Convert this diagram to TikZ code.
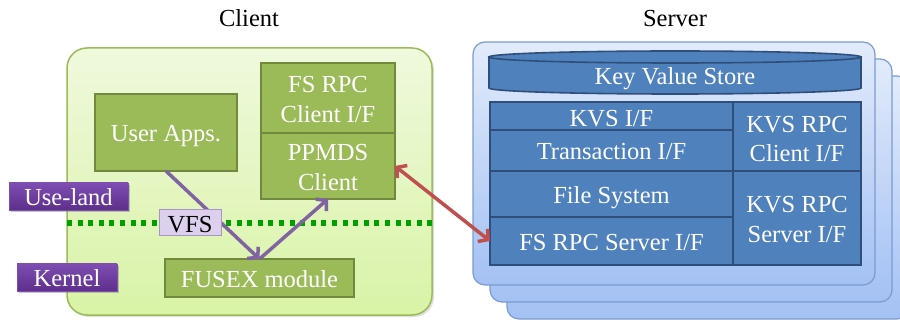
\documentclass[tikz,border=0pt]{standalone}
\usepackage{fontspec}
\setmainfont{Liberation Serif}
\usetikzlibrary{arrows.meta,shadows}
\newcommand\dnshift[2][1.5pt]{\raisebox{-#1}[\height][\depth]{#2}}
\definecolor{cgreen}{HTML}{9BBB59}
\definecolor{cgreendk}{HTML}{71893F}
\definecolor{clienttop}{HTML}{EFF9DD}
\definecolor{clientbot}{HTML}{D9F3A6}
\definecolor{purplelab}{HTML}{5E2F8C}
\definecolor{purpletop}{HTML}{7D4DB2}
\definecolor{vfsfill}{HTML}{DCD0EE}
\definecolor{vfsborder}{HTML}{A895C4}
\definecolor{dotgreen}{HTML}{00A000}
\definecolor{arrpurple}{HTML}{8064A2}
\definecolor{arrred}{HTML}{C0504D}
\definecolor{srvtop}{HTML}{E2EBFA}
\definecolor{srvbot}{HTML}{A3C1F4}
\definecolor{srvborder}{HTML}{7A9CD0}
\definecolor{sblue}{HTML}{4F81BD}
\definecolor{sbluedk}{HTML}{2F4F7A}
\begin{document}
\begin{tikzpicture}[x=1pt,y=-1pt,
  every node/.style={inner sep=0pt, outer sep=0pt},
  font=\fontsize{24.5}{29.3}\selectfont,
  oneline/.style={text height=19pt, text depth=0pt},
  cbox/.style={draw=cgreendk, line width=2.2pt, fill=cgreen, text=white, align=center},
  sbox/.style={draw=sbluedk, line width=2pt, fill=sblue, text=white, align=center},
  plabel/.style={draw=purpletop, line width=0.6pt, top color=purpletop, bottom color=purplelab, text=white,
    drop shadow={shadow xshift=2pt, shadow yshift=-2pt, opacity=0.45}},
  vfslabel/.style={draw=vfsborder, line width=1pt, fill=vfsfill, text=black},
  parrow/.style={draw=arrpurple, line width=3.5pt, -{Straight Barb[length=7pt,width=16pt]}},
  rarrow/.style={draw=arrred, line width=3.5pt, {Straight Barb[length=7pt,width=16pt]}-{Straight Barb[length=7pt,width=16pt]}},
  srvlayer/.style={draw=srvborder, line width=1.2pt, rounded corners=12pt, top color=srvtop, bottom color=srvbot}
]
\useasboundingbox (0,0) rectangle (900,323);

% titles
\node[oneline] (tclient) at (249,17) {Client};
\node[oneline] (tserver) at (675,17) {Server};

% client area
\draw[draw=cgreen, line width=1.5pt, rounded corners=20pt, top color=clienttop, bottom color=clientbot,
  drop shadow={shadow xshift=2pt, shadow yshift=-2pt, opacity=0.25}] (67,48) rectangle (432,315);

% dotted separator
\coordinate (dl) at (67,223);
\coordinate (dr) at (432,223);
\draw[dotgreen, line width=6pt, dash pattern=on 5pt off 5.6pt] (dl) -- (dr);

% client boxes
\node[cbox, oneline, minimum width=142pt, minimum height=77pt] (ua) at (166,132.5) {User Apps.};
\node[cbox, minimum width=134pt, minimum height=70pt] (fsc) at (328,98) {\dnshift{FS RPC}\\\dnshift{Client I/F}};
\node[cbox, minimum width=134pt, minimum height=66pt] (pp) at (328,166) {\dnshift{PPMDS}\\\dnshift{Client}};
\node[cbox, oneline, minimum width=189pt, minimum height=38pt] (fx) at (259.5,278) {FUSEX module};

% labels
\node[plabel, oneline, minimum width=119pt, minimum height=27pt] (ul) at (68.5,196.5) {Use-land};
\node[plabel, oneline, minimum width=100pt, minimum height=27pt] (kl) at (67,277.5) {Kernel};

% purple arrows
\draw[parrow] (ua.south) -- (fx.north);
\draw[parrow] (fx.north) -- (pp.south);

\node[vfslabel, oneline, minimum width=62pt, minimum height=26pt] (vfs) at (190,223) {VFS};

% server stack
\draw[srvlayer] (507,76) rectangle (909,319);
\draw[srvlayer] (490,59) rectangle (892,302);
\draw[srvlayer] (473,42) rectangle (875,285);

% key value store cylinder
\draw[draw=sbluedk, line width=1.6pt, fill=sblue] (489,57) -- (489,88)
  arc[start angle=180, end angle=360, x radius=186pt, y radius=6pt] -- (861,57) -- cycle;
\draw[draw=sbluedk, line width=1.6pt, fill=sblue] (675,57) ellipse[x radius=186pt, y radius=6pt];
\node[oneline, text=white] (kvs) at (675,75.5) {Key Value Store};

% server grid
\node[sbox, oneline, minimum width=243pt, minimum height=28pt] (kif) at (611.5,116) {\dnshift{KVS I/F}};
\node[sbox, oneline, minimum width=243pt, minimum height=41pt] (tif) at (611.5,150.5) {Transaction I/F};
\node[sbox, oneline, minimum width=243pt, minimum height=46pt] (fs) at (611.5,194) {File System};
\node[sbox, oneline, minimum width=243pt, minimum height=48pt] (fsr) at (611.5,241) {FS RPC Server I/F};
\node[sbox, minimum width=128pt, minimum height=69pt] (krc) at (797,136.5) {\dnshift[2.5pt]{KVS RPC}\\\dnshift[2.5pt]{Client I/F}};
\node[sbox, minimum width=128pt, minimum height=94pt] (krs) at (797,218) {\dnshift{KVS RPC}\\\dnshift{Server I/F}};

% red arrow
\draw[rarrow] (pp.east) -- (fsr.west);
\end{tikzpicture}
\end{document}
